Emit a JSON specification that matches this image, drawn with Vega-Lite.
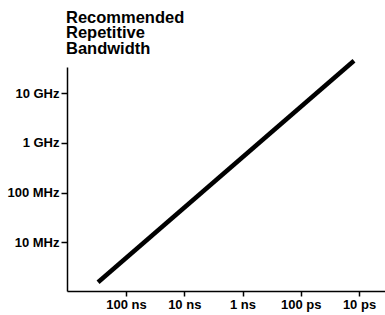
{
  "$schema": "https://vega.github.io/schema/vega-lite/v6.json",
  "width": 318,
  "height": 224,
  "autosize": "none",
  "padding": {"left": 67, "top": 67, "right": 0, "bottom": 24},
  "background": "white",
  "title": {
    "text": ["Recommended", "Repetitive", "Bandwidth"],
    "anchor": "start",
    "frame": "group",
    "font": "Liberation Sans",
    "fontSize": 16.5,
    "fontWeight": "bold",
    "color": "black",
    "lineHeight": 15.8,
    "baseline": "bottom",
    "offset": 10,
    "dx": -1,
    "dy": 32
  },
  "data": {
    "values": [
      {"risetime_ns": 302, "bandwidth_mhz": 1.585},
      {"risetime_ns": 0.0122, "bandwidth_mhz": 44700}
    ]
  },
  "mark": {"type": "line", "color": "black", "strokeWidth": 4.5, "strokeCap": "butt"},
  "encoding": {
    "x": {
      "field": "risetime_ns",
      "type": "quantitative",
      "scale": {"type": "log", "domain": [0.00358, 1030], "reverse": true, "nice": false, "zero": false},
      "axis": {
        "title": null,
        "grid": false,
        "values": [100, 10, 1, 0.1, 0.01],
        "labelExpr": "datum.value >= 99 ? '100 ns' : datum.value >= 9 ? '10 ns' : datum.value >= 0.9 ? '1 ns' : datum.value >= 0.09 ? '100 ps' : '10 ps'",
        "domainColor": "black",
        "domainWidth": 1.5,
        "tickColor": "black",
        "tickWidth": 1.5,
        "tickSize": 5,
        "labelFont": "Liberation Sans",
        "labelFontWeight": "bold",
        "labelFontSize": 13,
        "labelColor": "black",
        "labelPadding": 2,
        "labelFlush": false,
        "labelOverlap": false
      }
    },
    "y": {
      "field": "bandwidth_mhz",
      "type": "quantitative",
      "scale": {"type": "log", "domain": [1.06, 33400], "nice": false, "zero": false},
      "axis": {
        "title": null,
        "grid": false,
        "values": [10, 100, 1000, 10000],
        "labelExpr": "datum.value >= 9000 ? '10 GHz' : datum.value >= 900 ? '1 GHz' : datum.value >= 90 ? '100 MHz' : '10 MHz'",
        "domainColor": "black",
        "domainWidth": 1.5,
        "tickColor": "black",
        "tickWidth": 1.5,
        "tickSize": 6,
        "labelFont": "Liberation Sans",
        "labelFontWeight": "bold",
        "labelFontSize": 13,
        "labelColor": "black",
        "labelPadding": 2,
        "labelFlush": false,
        "labelOverlap": false
      }
    }
  },
  "config": {"view": {"stroke": null}}
}
